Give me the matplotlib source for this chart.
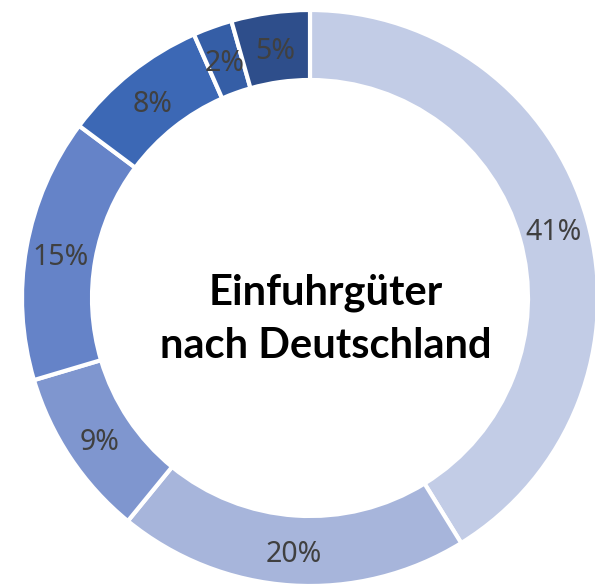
import matplotlib
matplotlib.use("Agg")
import matplotlib.pyplot as plt
import numpy as np

# shares as measured from the ring, and the printed labels
values = [41.2, 19.7, 9.5, 14.8, 8.2, 2.2, 4.4]
labels = ["41%", "20%", "9%", "15%", "8%", "2%", "5%"]
colors = ["#c2cce6", "#a7b5db", "#7f96cf", "#6583c8", "#3c68b5", "#355ea6", "#2e4e8b"]
title_lines = ["Einfuhrgüter", "nach Deutschland"]

W, H = 595, 585
fig = plt.figure(figsize=(W / 100, H / 100), dpi=100)
ax = fig.add_axes([0, 0, 1, 1])

cx, cy, R, r_in = 310, H - 298, 288, 218
ax.pie(values, colors=colors, startangle=90, counterclock=False,
       center=(cx, cy), radius=R, frame=True,
       wedgeprops=dict(width=R - r_in, edgecolor="white", linewidth=3))
ax.set_xlim(0, W)
ax.set_ylim(0, H)
ax.set_aspect("equal")
ax.axis("off")

total = sum(values)
ang = 90.0
rl = (R + r_in) / 2
for v, lab in zip(values, labels):
    span = v / total * 360
    mid = ang - span / 2
    ang -= span
    x = cx + rl * np.cos(np.radians(mid))
    y = cy + rl * np.sin(np.radians(mid)) - 4
    ax.text(x, y, lab, ha="center", va="center", fontsize=20.5,
            color="#404040", family=["Noto Sans", "DejaVu Sans"])

ax.text(326, H - 305, title_lines[0], ha="center", va="baseline", fontsize=30,
        fontweight="bold", color="black", family=["Lato", "DejaVu Sans"])
ax.text(326, H - 358, title_lines[1], ha="center", va="baseline", fontsize=30,
        fontweight="bold", color="black", family=["Lato", "DejaVu Sans"])

fig.savefig("out.png", dpi=100)
